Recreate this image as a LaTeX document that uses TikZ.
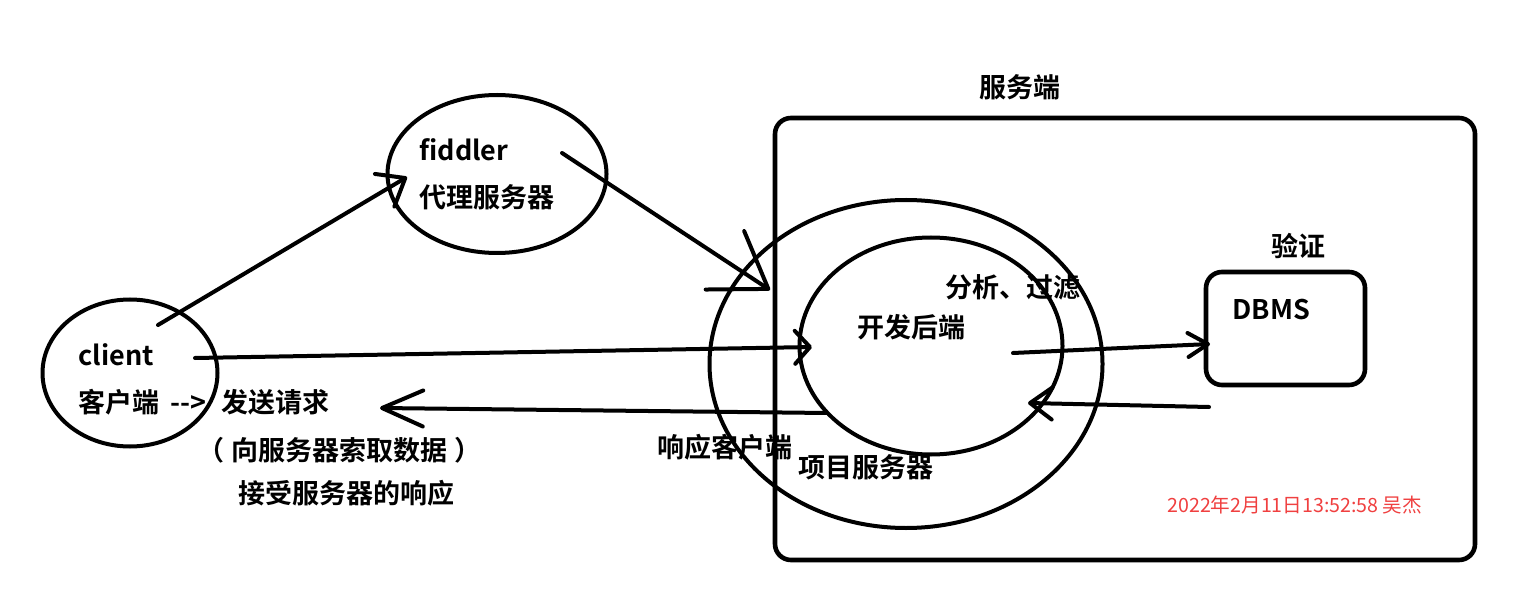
\documentclass[tikz,border=0pt]{standalone}
\usepackage{fontspec}
\setmainfont{Noto Sans CJK SC}[BoldFont={Noto Sans CJK SC Bold}]
\usetikzlibrary{shapes.geometric,arrows.meta}
\definecolor{stampred}{RGB}{240,64,64}

\begin{document}
\begin{tikzpicture}[x=0.5pt,y=-0.5pt,
  ink/.style={line width=2pt, line cap=round, line join=round},
  oval/.style={ink, draw, ellipse, inner sep=0pt},
  frame/.style={draw, line width=2.3pt, rounded corners=8pt},
  flow/.style 2 args={ink, -{Straight Barb[length=#1, width=#2, round]}},
  lbl/.style={font=\bfseries\fontsize{13.5pt}{15pt}\selectfont, inner sep=0pt, anchor=west},
  stamp/.style={font=\fontsize{9.8pt}{11pt}\selectfont, text=stampred, inner sep=0pt, anchor=west}]

  % canvas
  \fill[white] (0,0) rectangle (1529,598);
  \useasboundingbox (0,0) rectangle (1529,598);

  % server side frame and the database box
  \draw[frame] (775,118) rectangle (1475,560);
  \node[lbl] (serverlbl) at (979,87) {服务端};
  \draw[frame] (1206,272) rectangle (1365,385);
  \node[lbl] (dbms) at (1232,310) {DBMS};
  \node[lbl] (verify) at (1271,246) {验证};

  % ellipses
  \node[oval, minimum width=87.5pt, minimum height=73.5pt] (client) at (130,373) {};
  \node[oval, minimum width=109.5pt, minimum height=79pt] (proxy) at (497,174) {};
  \node[oval, minimum width=196.5pt, minimum height=164pt] (project) at (906,364) {};
  \node[oval, minimum width=131.5pt, minimum height=108.5pt] (backend) at (931,346) {};

  % labels
  \node[lbl] (clientname) at (78,355) {client};
  \node[lbl] (clientsend) at (78,402) {客户端\hspace{2.5pt} -{}->\hspace{4.5pt} 发送请求};
  \node[lbl] (clientask) at (197,450) {（\hspace{3.5pt}向服务器索取数据\hspace{3.5pt}）};
  \node[lbl] (clientrecv) at (238,493) {接受服务器的响应};
  \node[lbl] (proxyname) at (419,150) {fiddler};
  \node[lbl] (proxyrole) at (419,197) {代理服务器};
  \node[lbl] (filter) at (945,287) {分析、过滤};
  \node[lbl] (backendlbl) at (857,327) {开发后端};
  \node[lbl] (reply) at (657,447) {响应客户端};
  \node[lbl] (projectlbl) at (798,467) {项目服务器};
  \node[stamp] (stampnote) at (1167,505) {2022年2月11日13:52:58 吴杰};

  % connector end points
  \coordinate (c1s) at (158,325);  \coordinate (c1e) at (407,177);
  \coordinate (c2s) at (562,153);  \coordinate (c2e) at (770,290);
  \coordinate (c3s) at (195,358);  \coordinate (c3e) at (812,347);
  \coordinate (c4s) at (1013,353); \coordinate (c4e) at (1210,344);
  \coordinate (c5s) at (1209,407); \coordinate (c5e) at (1028,403);
  \coordinate (c6s) at (827,413);  \coordinate (c6e) at (380,408);

  % request and response flows
  \draw[flow={12pt}{19pt}] (c1s) -- (c1e);
  \draw[flow={26pt}{35pt}] (c2s) -- (c2e);
  \draw[flow={7.5pt}{16.5pt}] (c3s) -- (c3e);
  \draw[flow={10pt}{12pt}] (c4s) -- (c4e);
  \draw[flow={11pt}{16pt}] (c5s) -- (c5e);
  \draw[flow={20.5pt}{18pt}] (c6s) -- (c6e);
\end{tikzpicture}
\end{document}
